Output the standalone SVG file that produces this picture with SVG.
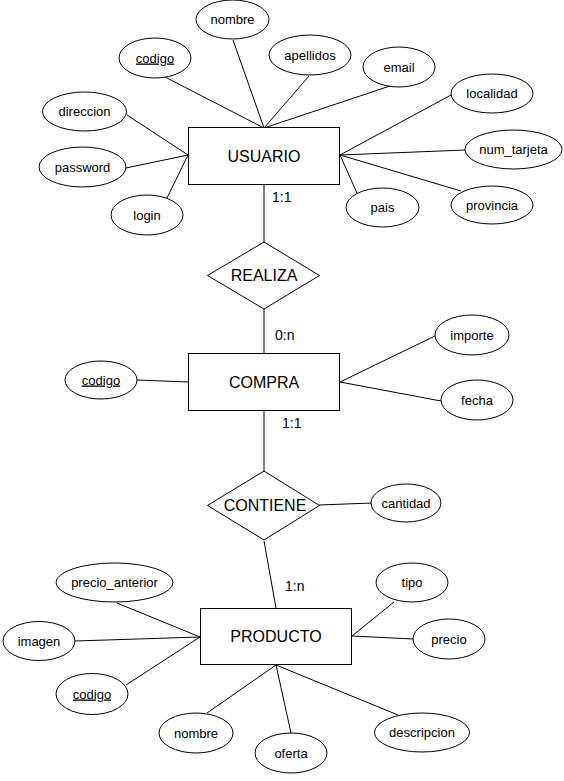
<svg xmlns="http://www.w3.org/2000/svg" width="564" height="781" viewBox="0 0 564 781">
<style>
.e{fill:#fff;stroke:#000;stroke-width:1}
.r{fill:#fff;stroke:#000;stroke-width:1}
.c line{stroke:#000;stroke-width:1}
.a{font-family:"Liberation Sans",Arial,sans-serif;font-size:13px;text-anchor:middle;fill:#000}
.n{font-family:"Liberation Sans",Arial,sans-serif;font-size:16px;text-anchor:middle;fill:#000}
.k{font-family:"Liberation Sans",Arial,sans-serif;font-size:14px;fill:#000}
.u{text-decoration:underline}
</style>
<rect width="564" height="781" fill="#fff"/>
<g id="connectors" class="c">
<line x1="165" y1="77" x2="264" y2="128"/>
<line x1="233" y1="40" x2="264" y2="128"/>
<line x1="309" y1="76" x2="264" y2="128"/>
<line x1="390" y1="86" x2="264" y2="128"/>
<line x1="451" y1="95" x2="340" y2="155"/>
<line x1="465" y1="150" x2="340" y2="155"/>
<line x1="461" y1="191" x2="340" y2="155"/>
<line x1="357" y1="193" x2="340" y2="155"/>
<line x1="127" y1="115" x2="188" y2="155"/>
<line x1="126" y1="168" x2="188" y2="155"/>
<line x1="166" y1="200" x2="188" y2="155"/>
<line x1="264" y1="184" x2="264" y2="242"/>
<line x1="264" y1="309" x2="264" y2="353"/>
<line x1="137" y1="380" x2="188" y2="382"/>
<line x1="435" y1="336" x2="340" y2="382"/>
<line x1="441" y1="401" x2="340" y2="382"/>
<line x1="264" y1="410" x2="264" y2="471"/>
<line x1="319" y1="505" x2="372" y2="503"/>
<line x1="264" y1="541" x2="276" y2="608"/>
<line x1="117" y1="603" x2="200" y2="637"/>
<line x1="75" y1="641" x2="200" y2="637"/>
<line x1="126" y1="685" x2="200" y2="637"/>
<line x1="394" y1="602" x2="352" y2="636"/>
<line x1="413" y1="639" x2="352" y2="636"/>
<line x1="207" y1="713" x2="276" y2="665"/>
<line x1="291" y1="733" x2="276" y2="665"/>
<line x1="398" y1="715" x2="276" y2="665"/>
</g>
<g id="usuario"><rect class="r" x="188.5" y="127.5" width="151" height="57"/><text class="n" x="264" y="162">USUARIO</text></g>
<g id="u_nombre"><ellipse class="e" cx="232.5" cy="19.5" rx="36.5" ry="19.5"/><text class="a" x="232.5" y="24">nombre</text></g>
<g id="u_codigo"><ellipse class="e" cx="155" cy="58" rx="36" ry="20"/><text class="a u" x="155" y="62.5">codigo</text></g>
<g id="u_apellidos"><ellipse class="e" cx="310" cy="55" rx="41" ry="20"/><text class="a" x="310" y="59.5">apellidos</text></g>
<g id="u_email"><ellipse class="e" cx="399" cy="67" rx="36" ry="20"/><text class="a" x="399" y="71.5">email</text></g>
<g id="u_localidad"><ellipse class="e" cx="492" cy="93.5" rx="41" ry="19.5"/><text class="a" x="492" y="98">localidad</text></g>
<g id="u_direccion"><ellipse class="e" cx="84.5" cy="111.5" rx="42" ry="19.5"/><text class="a" x="84.5" y="116">direccion</text></g>
<g id="u_password"><ellipse class="e" cx="82.5" cy="167" rx="43.5" ry="20"/><text class="a" x="82.5" y="171.5">password</text></g>
<g id="u_num_tarjeta"><ellipse class="e" cx="513.5" cy="149.5" rx="48.5" ry="19.5"/><text class="a" x="513.5" y="154">num_tarjeta</text></g>
<g id="u_login"><ellipse class="e" cx="147" cy="215" rx="36" ry="20"/><text class="a" x="147" y="219.5">login</text></g>
<g id="u_pais"><ellipse class="e" cx="382.5" cy="207.5" rx="36.5" ry="19.5"/><text class="a" x="382.5" y="212">pais</text></g>
<g id="u_provincia"><ellipse class="e" cx="492" cy="205" rx="41" ry="19"/><text class="a" x="492" y="209.5">provincia</text></g>
<g id="realiza"><polygon class="r" points="264,242 319.5,275.5 264,309 207.5,275.5"/><text class="n" x="264" y="281">REALIZA</text></g>
<g id="compra"><rect class="r" x="188.5" y="353.5" width="151" height="57"/><text class="n" x="264" y="387.5">COMPRA</text></g>
<g id="c_codigo"><ellipse class="e" cx="101" cy="380" rx="36" ry="19"/><text class="a u" x="101" y="384.5">codigo</text></g>
<g id="c_importe"><ellipse class="e" cx="472" cy="335" rx="37" ry="20"/><text class="a" x="472" y="339.5">importe</text></g>
<g id="c_fecha"><ellipse class="e" cx="477" cy="400" rx="36" ry="20"/><text class="a" x="477" y="404.5">fecha</text></g>
<g id="contiene"><polygon class="r" points="264,471 319.5,505.5 264,540 207.5,505.5"/><text class="n" x="265" y="511">CONTIENE</text></g>
<g id="ct_cantidad"><ellipse class="e" cx="406" cy="503" rx="35" ry="19"/><text class="a" x="406" y="507.5">cantidad</text></g>
<g id="producto"><rect class="r" x="200.5" y="608.5" width="151" height="56"/><text class="n" x="276" y="642">PRODUCTO</text></g>
<g id="p_precio_anterior"><ellipse class="e" cx="114.5" cy="582.5" rx="58.5" ry="19.5"/><text class="a" x="114.5" y="587">precio_anterior</text></g>
<g id="p_imagen"><ellipse class="e" cx="39" cy="641" rx="36" ry="19.5"/><text class="a" x="39" y="645.5">imagen</text></g>
<g id="p_codigo"><ellipse class="e" cx="92" cy="694" rx="36" ry="20.5"/><text class="a u" x="92" y="698.5">codigo</text></g>
<g id="p_nombre"><ellipse class="e" cx="196" cy="733" rx="37" ry="20"/><text class="a" x="196" y="737.5">nombre</text></g>
<g id="p_oferta"><ellipse class="e" cx="291" cy="753" rx="36" ry="20"/><text class="a" x="291" y="757.5">oferta</text></g>
<g id="p_descripcion"><ellipse class="e" cx="422" cy="732.5" rx="47.5" ry="19.5"/><text class="a" x="422" y="737">descripcion</text></g>
<g id="p_tipo"><ellipse class="e" cx="412" cy="582.5" rx="36" ry="19.5"/><text class="a" x="412" y="587">tipo</text></g>
<g id="p_precio"><ellipse class="e" cx="449" cy="639" rx="36" ry="20"/><text class="a" x="449" y="643.5">precio</text></g>
<g id="labels">
<text class="k" x="272" y="202">1:1</text>
<text class="k" x="275" y="340">0:n</text>
<text class="k" x="282" y="428">1:1</text>
<text class="k" x="285" y="591">1:n</text>
</g>
</svg>
